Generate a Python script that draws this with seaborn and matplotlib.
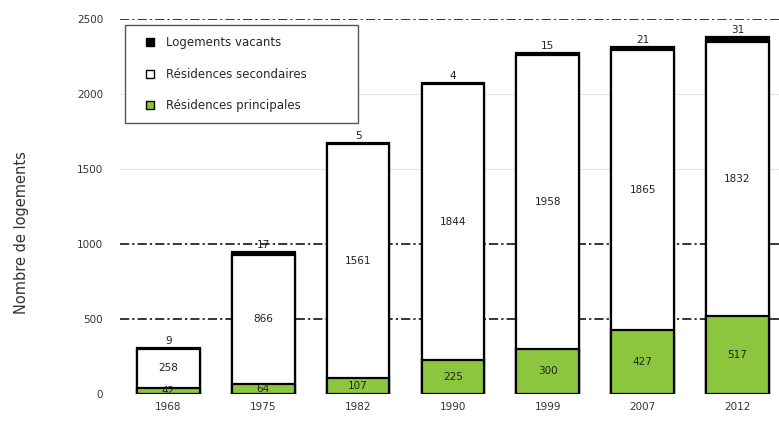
import matplotlib
matplotlib.use("Agg")
import matplotlib.pyplot as plt
from matplotlib.lines import Line2D
import numpy as np
import pandas as pd
import seaborn as sns

years = ["1968", "1975", "1982", "1990", "1999", "2007", "2012"]
principales = [42, 64, 107, 225, 300, 427, 517]
secondaires = [258, 866, 1561, 1844, 1958, 1865, 1832]
vacants = [9, 17, 5, 4, 15, 21, 31]

series_labels = ["Logements vacants", "Résidences secondaires", "Résidences principales"]
green = "#8cc63f"

sns.set_theme(style="white")
plt.rcParams["font.family"] = ["DejaVu Sans"]

df = pd.DataFrame({
    "annee": years,
    "principales": principales,
    "secondaires": secondaires,
    "vacants": vacants,
})
df["cum_ps"] = df["principales"] + df["secondaires"]
df["total"] = df["cum_ps"] + df["vacants"]

fig = plt.figure(figsize=(7.79, 4.25), dpi=100)
ax = fig.add_axes([0.154, 0.073, 0.85, 0.882])

# stacked bars: draw cumulative heights from the tallest layer down
bar_kw = dict(width=0.66, edgecolor="black", linewidth=1.6, ax=ax, order=years)
sns.barplot(data=df, x="annee", y="total", color="black", saturation=1, **bar_kw)
sns.barplot(data=df, x="annee", y="cum_ps", color="white", saturation=1, **bar_kw)
sns.barplot(data=df, x="annee", y="principales", color=green, saturation=1, **bar_kw)

# horizontal reference lines
for yv in (500, 1000, 2500):
    ax.axhline(yv, color="black", lw=1.1, ls=(0, (6, 2, 1.5, 2)), zorder=0)
for yv in (1500, 2000):
    ax.axhline(yv, color="#e6e6e6", lw=0.8, zorder=0)

# value labels
for i in range(len(years)):
    p, s, v = principales[i], secondaires[i], vacants[i]
    ax.text(i, p / 2, f"{p}", ha="center", va="center", fontsize=7.5, color="#222222")
    ax.text(i, p + s / 2, f"{s}", ha="center", va="center", fontsize=7.5, color="#222222")
    ax.text(i, p + s + v + 12, f"{v}", ha="center", va="bottom", fontsize=7.5, color="#222222")

ax.set_xlim(-0.51, 6.47)
ax.set_ylim(0, 2500)
ax.set_yticks([0, 500, 1000, 1500, 2000, 2500])
ax.tick_params(axis="both", labelsize=7.5, colors="#333333", length=0)
ax.tick_params(axis="y", pad=12)
ax.tick_params(axis="x", pad=6)
ax.set_xlabel("")
ax.set_ylabel("Nombre de logements", fontsize=10.5, color="#333333")
ax.yaxis.set_label_coords(-0.138, 0.43)
for sp in ax.spines.values():
    sp.set_visible(False)

handles = [
    Line2D([], [], marker="s", ls="none", markersize=6, markerfacecolor="black",
           markeredgecolor="black"),
    Line2D([], [], marker="s", ls="none", markersize=6, markerfacecolor="white",
           markeredgecolor="black"),
    Line2D([], [], marker="s", ls="none", markersize=6, markerfacecolor=green,
           markeredgecolor="black"),
]
leg = ax.legend(handles, series_labels, loc="upper left", mode="expand",
                bbox_to_anchor=(0.0076, 0.723, 0.352, 0.261), fontsize=8.5,
                frameon=True, fancybox=False, handletextpad=0.15,
                labelspacing=1.55, borderpad=0.95, handlelength=2.4,
                borderaxespad=0)
leg.get_frame().set_edgecolor("#555555")
leg.get_frame().set_linewidth(1.0)
leg.get_frame().set_facecolor("white")
leg.get_frame().set_alpha(1)
leg.set_zorder(5)

fig.savefig("out.png", dpi=100)
